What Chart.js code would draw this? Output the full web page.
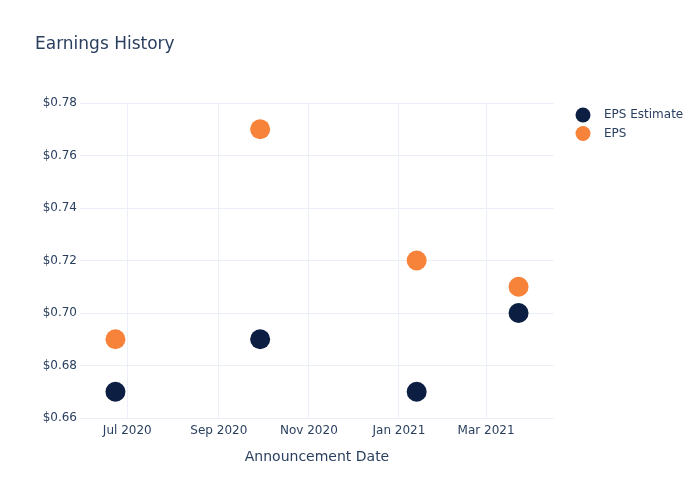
<!DOCTYPE html>
<html>
<head>
<meta charset="utf-8">
<script src="https://cdn.jsdelivr.net/npm/chart.js@4"></script>
<style>
  html, body { margin: 0; padding: 0; background: #fff; }
  #wrap { width: 700px; height: 500px; }
</style>
</head>
<body>
<div id="wrap"><canvas id="chart" width="700" height="500"></canvas></div>
<script>
// data
const announceDates = ['2020-06-23', '2020-09-29', '2021-01-13', '2021-03-23'];
const epsEstimate = [0.67, 0.69, 0.67, 0.70];
const epsActual = [0.69, 0.77, 0.72, 0.71];
const xTickDates = ['2020-07-01', '2020-09-01', '2020-11-01', '2021-01-01', '2021-03-01'];
const xRange = ['2020-05-30', '2021-04-16'];
const yTicks = [0.66, 0.68, 0.70, 0.72, 0.74, 0.76, 0.78];

const MONTHS = ['Jan', 'Feb', 'Mar', 'Apr', 'May', 'Jun', 'Jul', 'Aug', 'Sep', 'Oct', 'Nov', 'Dec'];
const TEXT = '#2a3f5f';
const GRID = '#ebf0f8';
const FONT = '"DejaVu Sans", "Open Sans", sans-serif';

function toPoints(dates, vals) {
  return dates.map((d, i) => ({ x: Date.parse(d), y: vals[i] }));
}

// title + legend drawn by hand so they sit where plotly put them
const decor = {
  id: 'decor',
  afterDraw(chart) {
    const ctx = chart.ctx;
    ctx.save();
    ctx.fillStyle = TEXT;
    ctx.textBaseline = 'middle';
    ctx.textAlign = 'left';
    ctx.font = '17px ' + FONT;
    ctx.fillText('Earnings History', 35, 45);

    ctx.font = '12px ' + FONT;
    chart.data.datasets.forEach((ds, i) => {
      const y = 115 + i * 18.5;
      ctx.beginPath();
      ctx.arc(583, y, 7.5, 0, Math.PI * 2);
      ctx.fillStyle = ds.backgroundColor;
      ctx.fill();
      ctx.fillStyle = TEXT;
      ctx.fillText(ds.label, 604, y);
    });
    ctx.restore();
  }
};

const config = {
  type: 'scatter',
  data: {
    datasets: [
      {
        label: 'EPS Estimate',
        data: toPoints(announceDates, epsEstimate),
        backgroundColor: '#0c1f43',
        borderWidth: 0,
        pointRadius: 10,
        pointHoverRadius: 10
      },
      {
        label: 'EPS',
        data: toPoints(announceDates, epsActual),
        backgroundColor: '#f7823a',
        borderWidth: 0,
        pointRadius: 10,
        pointHoverRadius: 10
      }
    ]
  },
  options: {
    responsive: false,
    animation: false,
    events: [],
    layout: { padding: { top: 103, right: 146, left: 0, bottom: 0 } },
    plugins: {
      legend: { display: false },
      title: { display: false },
      tooltip: { enabled: false }
    },
    scales: {
      x: {
        type: 'linear',
        min: Date.parse(xRange[0]),
        max: Date.parse(xRange[1]),
        afterBuildTicks(axis) {
          axis.ticks = xTickDates.map(d => ({ value: Date.parse(d) }));
        },
        afterFit(axis) { axis.height = 82; },
        border: { display: false },
        grid: { color: GRID, drawTicks: false },
        ticks: {
          padding: 6,
          color: TEXT,
          font: { family: FONT, size: 12 },
          maxRotation: 0,
          callback(v) {
            const d = new Date(v);
            return MONTHS[d.getUTCMonth()] + ' ' + d.getUTCFullYear();
          }
        },
        title: {
          display: true,
          text: 'Announcement Date',
          color: TEXT,
          font: { family: FONT, size: 14 },
          padding: { top: 0, bottom: 34 }
        }
      },
      y: {
        min: 0.66,
        max: 0.78,
        afterBuildTicks(axis) {
          axis.ticks = yTicks.map(v => ({ value: v }));
        },
        afterFit(axis) { axis.width = 80; },
        border: { display: false },
        grid: { color: GRID, drawTicks: false },
        ticks: {
          padding: 3,
          color: TEXT,
          font: { family: FONT, size: 12 },
          callback(v) { return '$' + v.toFixed(2); }
        }
      }
    }
  },
  plugins: [decor]
};

new Chart(document.getElementById('chart').getContext('2d'), config);
</script>
</body>
</html>
